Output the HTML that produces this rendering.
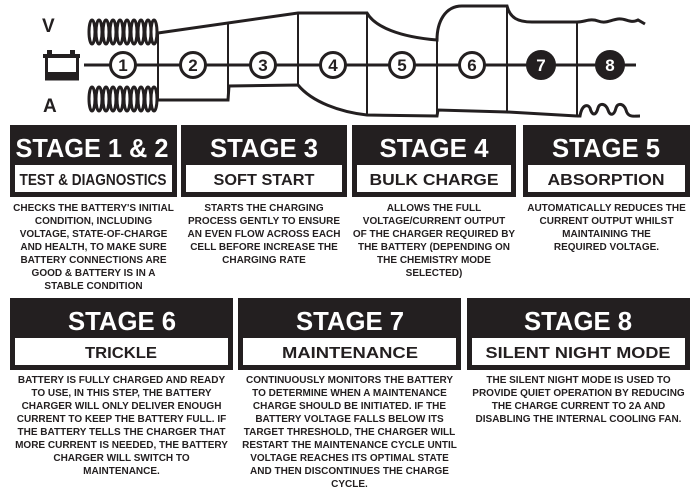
<!DOCTYPE html>
<html><head><meta charset="utf-8"><style>
html,body{margin:0;padding:0;background:#fff;}
body{width:700px;height:500px;position:relative;overflow:hidden;font-family:"Liberation Sans",sans-serif;color:#231f20;}
svg{position:absolute;left:0;top:0;}
.t{position:absolute;text-align:center;font-weight:bold;font-size:10px;line-height:13px;white-space:nowrap;}
</style></head><body>
<svg width="700" height="500" viewBox="0 0 700 500" fill="none" stroke="#231f20" stroke-width="3" font-family="Liberation Sans, sans-serif">
<text x="42" y="32" font-size="19" font-weight="bold" fill="#231f20" stroke="none">V</text>
<text x="43" y="112" font-size="19" font-weight="bold" fill="#231f20" stroke="none">A</text>
<g stroke-width="3">
<ellipse cx="92" cy="32" rx="3" ry="12"/><ellipse cx="99" cy="32" rx="3" ry="12"/><ellipse cx="106" cy="32" rx="3" ry="12"/><ellipse cx="113" cy="32" rx="3" ry="12"/><ellipse cx="120" cy="32" rx="3" ry="12"/><ellipse cx="127" cy="32" rx="3" ry="12"/><ellipse cx="134" cy="32" rx="3" ry="12"/><ellipse cx="141" cy="32" rx="3" ry="12"/><ellipse cx="148" cy="32" rx="3" ry="12"/><ellipse cx="154" cy="32" rx="3" ry="12"/>
<ellipse cx="92" cy="99" rx="3" ry="12"/><ellipse cx="99" cy="99" rx="3" ry="12"/><ellipse cx="106" cy="99" rx="3" ry="12"/><ellipse cx="113" cy="99" rx="3" ry="12"/><ellipse cx="120" cy="99" rx="3" ry="12"/><ellipse cx="127" cy="99" rx="3" ry="12"/><ellipse cx="134" cy="99" rx="3" ry="12"/><ellipse cx="141" cy="99" rx="3" ry="12"/><ellipse cx="148" cy="99" rx="3" ry="12"/><ellipse cx="154" cy="99" rx="3" ry="12"/>
</g>
<rect x="47" y="50" width="5" height="4" fill="#231f20" stroke="none"/>
<rect x="70" y="50" width="5" height="4" fill="#231f20" stroke="none"/>
<rect x="43" y="54" width="37" height="4" fill="#231f20" stroke="none"/>
<rect x="46.5" y="56" width="31" height="23" stroke-width="3"/>
<rect x="46" y="72" width="32" height="8" fill="#231f20" stroke="none"/>
<line x1="84" y1="65" x2="636" y2="65"/>
<path d="M158,33 L298,13 L367,13 C375,27 400,37 437,40 C437,22 445,6 462,6 L507,6 C510,18 518,22 532,22 L577,22 C585,22 590,18 598,21 C606,24 610,20 618,19 C626,18 630,24 638,20 L645,24" stroke-width="3"/>
<path d="M158,100 L228,100 L229,86 L298,85 C312,102 340,112 367,115 L437,116 L438,110 L507,112 L577,116" stroke-width="3"/>
<path d="M577,116 L580,116 C582,104 588,104 590,108 C592,116 596,116 598,108 C600,102 606,104 608,110 C610,116 614,116 616,108 C618,102 624,104 626,110 C628,118 634,116 640,116" stroke-width="3"/>
<g stroke-width="2">
<line x1="158" y1="32" x2="158" y2="101"/>
<line x1="228" y1="23" x2="228" y2="101"/>
<line x1="298" y1="13" x2="298" y2="86"/>
<line x1="367" y1="13" x2="367" y2="116"/>
<line x1="437" y1="39" x2="437" y2="117"/>
<line x1="507" y1="6" x2="507" y2="113"/>
<line x1="577" y1="22" x2="577" y2="117"/>
</g>
<g fill="#fff" stroke-width="3">
<circle cx="123" cy="65" r="12.5"/><circle cx="193" cy="65" r="12.5"/><circle cx="263" cy="65" r="12.5"/><circle cx="333" cy="65" r="12.5"/><circle cx="402" cy="65" r="12.5"/><circle cx="472" cy="65" r="12.5"/>
<circle cx="541" cy="65" r="13.5" fill="#231f20"/><circle cx="610" cy="65" r="13.5" fill="#231f20"/>
</g>
<g font-size="17" font-weight="bold" text-anchor="middle" stroke="none" fill="#231f20">
<text x="123" y="71">1</text><text x="193" y="71">2</text><text x="263" y="71">3</text><text x="333" y="71">4</text><text x="402" y="71">5</text><text x="472" y="71">6</text>
<text x="541" y="71" fill="#fff">7</text><text x="610" y="71" fill="#fff">8</text>
</g>
<g stroke="none">
<rect x="10" y="125" width="167" height="72" fill="#231f20"/>
<rect x="181" y="125" width="166" height="72" fill="#231f20"/>
<rect x="352" y="125" width="164" height="72" fill="#231f20"/>
<rect x="523" y="125" width="167" height="72" fill="#231f20"/>
<rect x="15" y="165" width="157" height="27" fill="#fff"/>
<rect x="186" y="165" width="156" height="27" fill="#fff"/>
<rect x="357" y="165" width="154" height="27" fill="#fff"/>
<rect x="528" y="165" width="157" height="27" fill="#fff"/>
<rect x="10" y="298" width="223" height="72" fill="#231f20"/>
<rect x="238" y="298" width="223" height="72" fill="#231f20"/>
<rect x="467" y="298" width="223" height="72" fill="#231f20"/>
<rect x="15" y="338" width="213" height="27" fill="#fff"/>
<rect x="243" y="338" width="213" height="27" fill="#fff"/>
<rect x="472" y="338" width="213" height="27" fill="#fff"/>
</g>
<g stroke="none" font-weight="bold" text-anchor="middle">
<g fill="#fff" font-size="26">
<text x="92" y="157" textLength="153" lengthAdjust="spacingAndGlyphs">STAGE 1 &amp; 2</text>
<text x="264" y="157" textLength="108" lengthAdjust="spacingAndGlyphs">STAGE 3</text>
<text x="434" y="157" textLength="109" lengthAdjust="spacingAndGlyphs">STAGE 4</text>
<text x="606" y="157" textLength="108" lengthAdjust="spacingAndGlyphs">STAGE 5</text>
<text x="122" y="330" textLength="108" lengthAdjust="spacingAndGlyphs">STAGE 6</text>
<text x="350" y="330" textLength="108" lengthAdjust="spacingAndGlyphs">STAGE 7</text>
<text x="578" y="330" textLength="108" lengthAdjust="spacingAndGlyphs">STAGE 8</text>
</g>
<g fill="#231f20" font-size="16">
<text x="93" y="185" textLength="147" lengthAdjust="spacingAndGlyphs">TEST &amp; DIAGNOSTICS</text>
<text x="264" y="185" textLength="101" lengthAdjust="spacingAndGlyphs">SOFT START</text>
<text x="434" y="185" textLength="129" lengthAdjust="spacingAndGlyphs">BULK CHARGE</text>
<text x="606" y="185" textLength="117" lengthAdjust="spacingAndGlyphs">ABSORPTION</text>
<text x="121" y="358" textLength="72" lengthAdjust="spacingAndGlyphs">TRICKLE</text>
<text x="350" y="358" textLength="136" lengthAdjust="spacingAndGlyphs">MAINTENANCE</text>
<text x="578" y="358" textLength="185" lengthAdjust="spacingAndGlyphs">SILENT NIGHT MODE</text>
</g>
</g>
</svg>
<div class="t" style="left:5px;width:177px;top:202px;">CHECKS THE BATTERY'S INITIAL<br>CONDITION, INCLUDING<br>VOLTAGE, STATE-OF-CHARGE<br>AND HEALTH, TO MAKE SURE<br>BATTERY CONNECTIONS ARE<br>GOOD &amp; BATTERY IS IN A<br>STABLE CONDITION</div>
<div class="t" style="left:176px;width:176px;top:202px;">STARTS THE CHARGING<br>PROCESS GENTLY TO ENSURE<br>AN EVEN FLOW ACROSS EACH<br>CELL BEFORE INCREASE THE<br>CHARGING RATE</div>
<div class="t" style="left:347px;width:174px;top:202px;">ALLOWS THE FULL<br>VOLTAGE/CURRENT OUTPUT<br>OF THE CHARGER REQUIRED BY<br>THE BATTERY (DEPENDING ON<br>THE CHEMISTRY MODE<br>SELECTED)</div>
<div class="t" style="left:518px;width:177px;top:202px;">AUTOMATICALLY REDUCES THE<br>CURRENT OUTPUT WHILST<br>MAINTAINING THE<br>REQUIRED VOLTAGE.</div>
<div class="t" style="left:5px;width:233px;top:374px;">BATTERY IS FULLY CHARGED AND READY<br>TO USE, IN THIS STEP, THE BATTERY<br>CHARGER WILL ONLY DELIVER ENOUGH<br>CURRENT TO KEEP THE BATTERY FULL. IF<br>THE BATTERY TELLS THE CHARGER THAT<br>MORE CURRENT IS NEEDED, THE BATTERY<br>CHARGER WILL SWITCH TO<br>MAINTENANCE.</div>
<div class="t" style="left:233px;width:233px;top:374px;">CONTINUOUSLY MONITORS THE BATTERY<br>TO DETERMINE WHEN A MAINTENANCE<br>CHARGE SHOULD BE INITIATED. IF THE<br>BATTERY VOLTAGE FALLS BELOW ITS<br>TARGET THRESHOLD, THE CHARGER WILL<br>RESTART THE MAINTENANCE CYCLE UNTIL<br>VOLTAGE REACHES ITS OPTIMAL STATE<br>AND THEN DISCONTINUES THE CHARGE<br>CYCLE.</div>
<div class="t" style="left:462px;width:233px;top:374px;">THE SILENT NIGHT MODE IS USED TO<br>PROVIDE QUIET OPERATION BY REDUCING<br>THE CHARGE CURRENT TO 2A AND<br>DISABLING THE INTERNAL COOLING FAN.</div>
</body></html>
